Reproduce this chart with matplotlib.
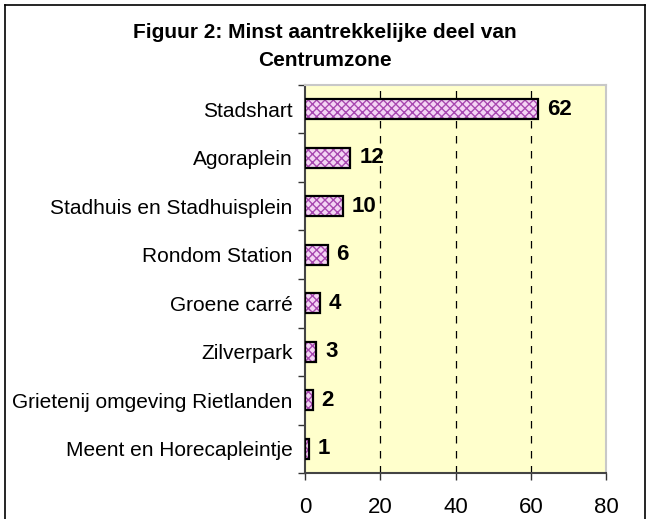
import matplotlib
matplotlib.use("Agg")
import matplotlib.pyplot as plt
from matplotlib.lines import Line2D
import numpy as np

categories = ["Stadshart", "Agoraplein", "Stadhuis en Stadhuisplein", "Rondom Station",
              "Groene carré", "Zilverpark", "Grietenij omgeving Rietlanden",
              "Meent en Horecapleintje"]
values = [62, 12, 10, 6, 4, 3, 2, 1]
xticks = [0, 20, 40, 60, 80]
title = "Figuur 2: Minst aantrekkelijke deel van\nCentrumzone"

plt.rcParams['font.family'] = ['Liberation Sans', 'DejaVu Sans']
plt.rcParams['hatch.linewidth'] = 1.0

fig = plt.figure(figsize=(6.48, 5.19), dpi=100)
W, H = 648, 519
ax = fig.add_axes([305 / W, 1 - 473 / H, (606 - 305) / W, (473 - 85) / H])
ax.set_facecolor('#ffffcc')

n = len(categories)
pos = np.arange(n)[::-1]
ax.barh(pos, values, height=0.42, color='#f4d4f4', edgecolor='#a848b0', hatch='xxxx',
        linewidth=0, zorder=2)
ax.barh(pos, values, height=0.42, color='none', edgecolor='black', linewidth=1.6, zorder=3)
for p, v in zip(pos, values):
    ax.text(v + 2.4, p, str(v), va='center', ha='left', fontsize=16, fontweight='bold', zorder=4)

ax.set_xlim(0, 80)
ax.set_ylim(-0.5, n - 0.5)
ax.set_xticks(xticks)
ax.set_xticklabels([str(t) for t in xticks], fontsize=16)
ax.tick_params(axis='x', length=5, width=1, pad=12, color='#333333')
ax.set_yticks(pos)
ax.set_yticklabels(categories, fontsize=15)
ax.tick_params(axis='y', length=0, pad=9)
ax.set_yticks(np.arange(n + 1) - 0.5, minor=True)
ax.tick_params(axis='y', which='minor', length=5, width=1, color='#333333')
for g in xticks[1:-1]:
    ax.axvline(g, color='black', linestyle=(0, (6, 6)), linewidth=0.9, zorder=1)
ax.spines['left'].set_color('#444444')
ax.spines['bottom'].set_color('#444444')
ax.spines['left'].set_linewidth(1.5)
ax.spines['bottom'].set_linewidth(1.5)
ax.spines['top'].set_color('#c8c8c8')
ax.spines['right'].set_color('#c8c8c8')
ax.spines['top'].set_linewidth(1.5)
ax.spines['right'].set_linewidth(1.5)

fig.text(325 / W, 1 - 47 / H, title, ha='center', va='center', fontsize=15,
         fontweight='bold', linespacing=1.6)

# outer frame
x0, x1, y0 = 4.5 / W, 644.5 / W, 1 - 5 / H
fig.add_artist(Line2D([x0, x0], [0, y0], color='black', linewidth=1.2, transform=fig.transFigure))
fig.add_artist(Line2D([x0, x1], [y0, y0], color='black', linewidth=1.2, transform=fig.transFigure))
fig.add_artist(Line2D([x1, x1], [0, y0], color='black', linewidth=1.2, transform=fig.transFigure))

fig.savefig("out.png", dpi=100)
